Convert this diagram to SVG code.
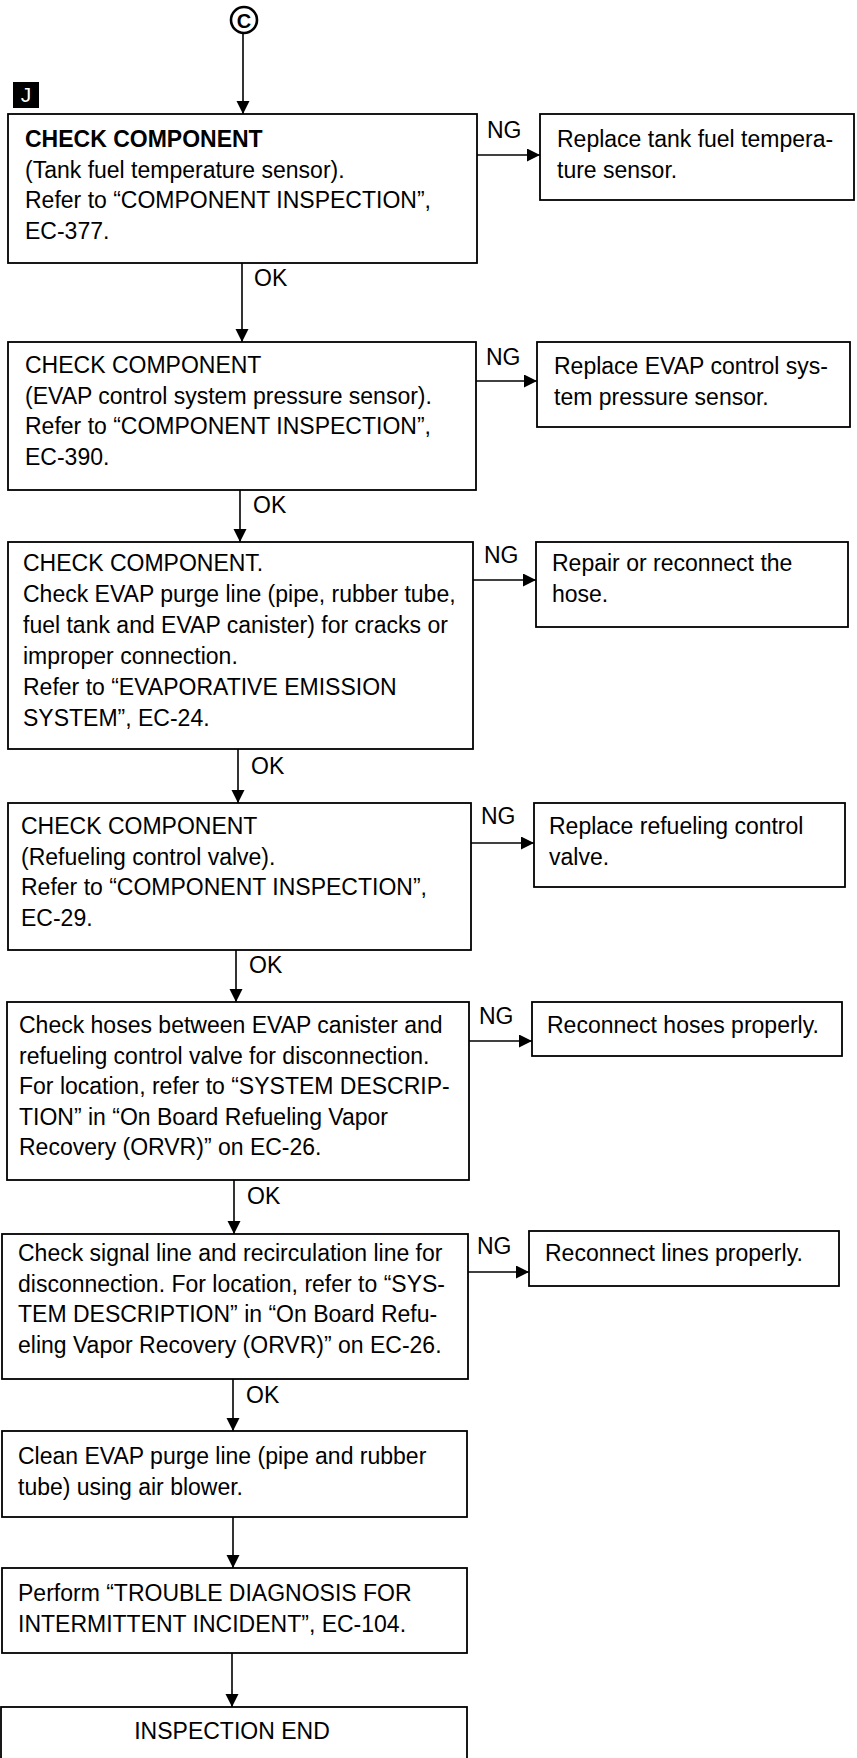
<svg xmlns="http://www.w3.org/2000/svg" width="857" height="1758" viewBox="0 0 857 1758">
<style>
.box{fill:#fff;stroke:#000;stroke-width:1.8}
.t{font-family:"Liberation Sans",Arial,sans-serif;font-size:23px;fill:#000}
.b{font-weight:bold}
.lbl{font-family:"Liberation Sans",Arial,sans-serif;font-size:23px;fill:#000}
.c{stroke:#000;stroke-width:1.6;fill:none;marker-end:url(#ah)}
</style>
<defs>
<marker id="ah" markerUnits="userSpaceOnUse" markerWidth="14" markerHeight="14" refX="13" refY="6.5" orient="auto">
<path d="M0,0 L13,6.5 L0,13 z" fill="#000"/>
</marker>
</defs>
<rect width="857" height="1758" fill="#fff"/>

<g id="start">
<circle cx="244" cy="20" r="13" fill="#fff" stroke="#000" stroke-width="2.6"/>
<text x="244" y="27.5" text-anchor="middle" font-family="Liberation Sans,Arial,sans-serif" font-weight="bold" font-size="20">C</text>
</g>
<g id="badge">
<rect x="13" y="82" width="26" height="26" fill="#000"/>
<text x="26" y="102" text-anchor="middle" font-family="Liberation Sans,Arial,sans-serif" font-size="21" fill="#fff">J</text>
</g>

<g id="connectors">
<line class="c" x1="243" y1="33" x2="243" y2="114"/>
<line class="c" x1="477" y1="155" x2="540" y2="155"/>
<line class="c" x1="242" y1="263" x2="242" y2="342"/>
<line class="c" x1="476" y1="381" x2="537" y2="381"/>
<line class="c" x1="240" y1="490" x2="240" y2="542"/>
<line class="c" x1="473" y1="580" x2="536" y2="580"/>
<line class="c" x1="238" y1="749" x2="238" y2="803"/>
<line class="c" x1="471" y1="843" x2="534" y2="843"/>
<line class="c" x1="236" y1="950" x2="236" y2="1002"/>
<line class="c" x1="469" y1="1041" x2="532" y2="1041"/>
<line class="c" x1="234" y1="1180" x2="234" y2="1234"/>
<line class="c" x1="468" y1="1272" x2="529" y2="1272"/>
<line class="c" x1="233" y1="1379" x2="233" y2="1431"/>
<line class="c" x1="233" y1="1517" x2="233" y2="1568"/>
<line class="c" x1="232" y1="1653" x2="232" y2="1707"/>
<text class="lbl" x="487" y="138">NG</text>
<text class="lbl" x="254" y="286">OK</text>
<text class="lbl" x="486" y="365">NG</text>
<text class="lbl" x="253" y="513">OK</text>
<text class="lbl" x="484" y="563">NG</text>
<text class="lbl" x="251" y="774">OK</text>
<text class="lbl" x="481" y="824">NG</text>
<text class="lbl" x="249" y="973">OK</text>
<text class="lbl" x="479" y="1024">NG</text>
<text class="lbl" x="247" y="1204">OK</text>
<text class="lbl" x="477" y="1254">NG</text>
<text class="lbl" x="246" y="1403">OK</text>
</g>

<g id="n1">
<rect class="box" x="8" y="114" width="469" height="149"/>
<text class="t" x="25" y="147"><tspan class="b">CHECK COMPONENT</tspan><tspan x="25" dy="30.5">(Tank fuel temperature sensor).</tspan><tspan x="25" dy="30.5">Refer to “COMPONENT INSPECTION”,</tspan><tspan x="25" dy="30.5">EC-377.</tspan></text>
</g>
<g id="r1">
<rect class="box" x="540" y="114" width="314" height="86"/>
<text class="t" x="557" y="147">Replace tank fuel tempera-<tspan x="557" dy="30.5">ture sensor.</tspan></text>
</g>

<g id="n2">
<rect class="box" x="8" y="342" width="468" height="148"/>
<text class="t" x="25" y="373">CHECK COMPONENT<tspan x="25" dy="30.5">(EVAP control system pressure sensor).</tspan><tspan x="25" dy="30.5">Refer to “COMPONENT INSPECTION”,</tspan><tspan x="25" dy="30.5">EC-390.</tspan></text>
</g>
<g id="r2">
<rect class="box" x="537" y="342" width="313" height="85"/>
<text class="t" x="554" y="374">Replace EVAP control sys-<tspan x="554" dy="30.5">tem pressure sensor.</tspan></text>
</g>

<g id="n3">
<rect class="box" x="8" y="542" width="465" height="207"/>
<text class="t" x="23" y="571">CHECK COMPONENT.<tspan x="23" dy="31">Check EVAP purge line (pipe, rubber tube,</tspan><tspan x="23" dy="31">fuel tank and EVAP canister) for cracks or</tspan><tspan x="23" dy="31">improper connection.</tspan><tspan x="23" dy="31">Refer to “EVAPORATIVE EMISSION</tspan><tspan x="23" dy="31">SYSTEM”, EC-24.</tspan></text>
</g>
<g id="r3">
<rect class="box" x="536" y="542" width="312" height="85"/>
<text class="t" x="552" y="571">Repair or reconnect the<tspan x="552" dy="30.5">hose.</tspan></text>
</g>

<g id="n4">
<rect class="box" x="8" y="803" width="463" height="147"/>
<text class="t" x="21" y="834">CHECK COMPONENT<tspan x="21" dy="30.5">(Refueling control valve).</tspan><tspan x="21" dy="30.5">Refer to “COMPONENT INSPECTION”,</tspan><tspan x="21" dy="30.5">EC-29.</tspan></text>
</g>
<g id="r4">
<rect class="box" x="534" y="803" width="311" height="84"/>
<text class="t" x="549" y="834">Replace refueling control<tspan x="549" dy="30.5">valve.</tspan></text>
</g>

<g id="n5">
<rect class="box" x="7" y="1002" width="462" height="178"/>
<text class="t" x="19" y="1033">Check hoses between EVAP canister and<tspan x="19" dy="30.6">refueling control valve for disconnection.</tspan><tspan x="19" dy="30.6">For location, refer to “SYSTEM DESCRIP-</tspan><tspan x="19" dy="30.6">TION” in “On Board Refueling Vapor</tspan><tspan x="19" dy="30.6">Recovery (ORVR)” on EC-26.</tspan></text>
</g>
<g id="r5">
<rect class="box" x="532" y="1002" width="310" height="54"/>
<text class="t" x="547" y="1033">Reconnect hoses properly.</text>
</g>

<g id="n6">
<rect class="box" x="2" y="1234" width="466" height="145"/>
<text class="t" x="18" y="1261">Check signal line and recirculation line for<tspan x="18" dy="30.5">disconnection. For location, refer to “SYS-</tspan><tspan x="18" dy="30.5">TEM DESCRIPTION” in “On Board Refu-</tspan><tspan x="18" dy="30.5">eling Vapor Recovery (ORVR)” on EC-26.</tspan></text>
</g>
<g id="r6">
<rect class="box" x="529" y="1231" width="310" height="55"/>
<text class="t" x="545" y="1261">Reconnect lines properly.</text>
</g>

<g id="n7">
<rect class="box" x="2" y="1431" width="465" height="86"/>
<text class="t" x="18" y="1464">Clean EVAP purge line (pipe and rubber<tspan x="18" dy="30.5">tube) using air blower.</tspan></text>
</g>
<g id="n8">
<rect class="box" x="2" y="1568" width="465" height="85"/>
<text class="t" x="18" y="1601">Perform “TROUBLE DIAGNOSIS FOR<tspan x="18" dy="30.5">INTERMITTENT INCIDENT”, EC-104.</tspan></text>
</g>
<g id="n9">
<rect class="box" x="1" y="1707" width="466" height="60"/>
<text class="t" x="232" y="1739" text-anchor="middle">INSPECTION END</text>
</g>
</svg>
